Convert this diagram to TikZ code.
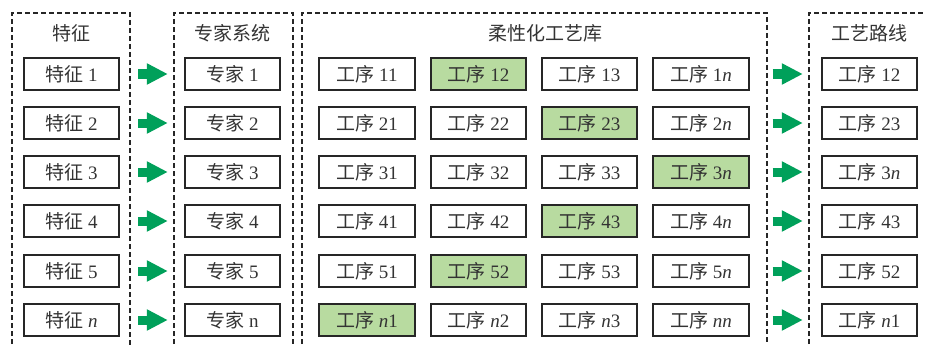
\documentclass[tikz,border=0pt]{standalone}
\usepackage{fontspec}
\setmainfont{Liberation Serif}
\newfontfamily\cjk{Noto Sans CJK SC}
\usetikzlibrary{arrows.meta}
\definecolor{selgreen}{HTML}{B8DBA0}
\definecolor{arrowgreen}{HTML}{00A05A}
\definecolor{txt}{HTML}{333333}
\newcommand\zh[1]{{\cjk #1}}
\newcommand\itn{\textit{n}}
\begin{document}
\begin{tikzpicture}[x=1pt,y=-1pt,
 box/.style={draw=black!85, line width=1.9pt, minimum width=95.5pt, minimum height=32.5pt, inner sep=0pt, text=txt, font=\fontsize{19}{19}\selectfont},
 sel/.style={box, fill=selgreen},
 frame/.style={draw=black!85, line width=1.3pt, dash pattern=on 5pt off 3pt},
 title/.style={text=txt, font=\fontsize{19}{19}\selectfont},
 garrow/.style={draw=arrowgreen, line width=9pt, -{Triangle[length=21pt,width=20pt]}}]
\useasboundingbox (0,0) rectangle (926,345);
\clip (0,0) rectangle (926,345);
% frames
\draw[frame] (12,360) -- (12,13) -- (130,13) -- (130,360);
\draw[frame] (174,360) -- (174,13) -- (293,13) -- (293,360);
\draw[frame] (302,360) -- (302,13) -- (767,13) -- (767,360);
\draw[frame] (809,360) -- (809,13) -- (940,13);
% titles
\node[title] (t1) at (71.5,33) {\zh{特征}};
\node[title] (t2) at (232.5,33) {\zh{专家系统}};
\node[title] (t3) at (545,33) {\zh{柔性化工艺库}};
\node[title] (t4) at (869.5,33) {\zh{工艺路线}};
% rows
\foreach \r/\y/\lab in {1/74/1, 2/123/2, 3/172/3, 4/221/4, 5/271/5, 6/320/\itn}{
  \node[box] (f\r) at (71.5,\y) {\zh{特征} \lab};
}
\foreach \r/\y/\lab in {1/74/1, 2/123/2, 3/172/3, 4/221/4, 5/271/5, 6/320/n}{
  \node[box] (e\r) at (232.5,\y) {\zh{专家} \lab};
}
% process library
\node[box] (p11) at (367,74) {\zh{工序} 11};
\node[sel] (p12) at (478.5,74) {\zh{工序} 12};
\node[box] (p13) at (589.5,74) {\zh{工序} 13};
\node[box] (p14) at (701,74) {\zh{工序} 1\itn};
\node[box] (p21) at (367,123) {\zh{工序} 21};
\node[box] (p22) at (478.5,123) {\zh{工序} 22};
\node[sel] (p23) at (589.5,123) {\zh{工序} 23};
\node[box] (p24) at (701,123) {\zh{工序} 2\itn};
\node[box] (p31) at (367,172) {\zh{工序} 31};
\node[box] (p32) at (478.5,172) {\zh{工序} 32};
\node[box] (p33) at (589.5,172) {\zh{工序} 33};
\node[sel] (p34) at (701,172) {\zh{工序} 3\itn};
\node[box] (p41) at (367,221) {\zh{工序} 41};
\node[box] (p42) at (478.5,221) {\zh{工序} 42};
\node[sel] (p43) at (589.5,221) {\zh{工序} 43};
\node[box] (p44) at (701,221) {\zh{工序} 4\itn};
\node[box] (p51) at (367,271) {\zh{工序} 51};
\node[sel] (p52) at (478.5,271) {\zh{工序} 52};
\node[box] (p53) at (589.5,271) {\zh{工序} 53};
\node[box] (p54) at (701,271) {\zh{工序} 5\itn};
\node[sel] (p61) at (367,320) {\zh{工序} \itn1};
\node[box] (p62) at (478.5,320) {\zh{工序} \itn2};
\node[box] (p63) at (589.5,320) {\zh{工序} \itn3};
\node[box] (p64) at (701,320) {\zh{工序} \itn\itn};
% route
\node[box] (r1) at (869.5,74) {\zh{工序} 12};
\node[box] (r2) at (869.5,123) {\zh{工序} 23};
\node[box] (r3) at (869.5,172) {\zh{工序} 3\itn};
\node[box] (r4) at (869.5,221) {\zh{工序} 43};
\node[box] (r5) at (869.5,271) {\zh{工序} 52};
\node[box] (r6) at (869.5,320) {\zh{工序} \itn1};
% arrows
\foreach \r in {1,...,6}{
  \draw[garrow, shorten <=18pt, shorten >=16pt] (f\r.east) -- (e\r.west);
  \draw[garrow, shorten <=23pt, shorten >=18pt] (p\r4.east) -- (r\r.west);
}
\end{tikzpicture}
\end{document}
